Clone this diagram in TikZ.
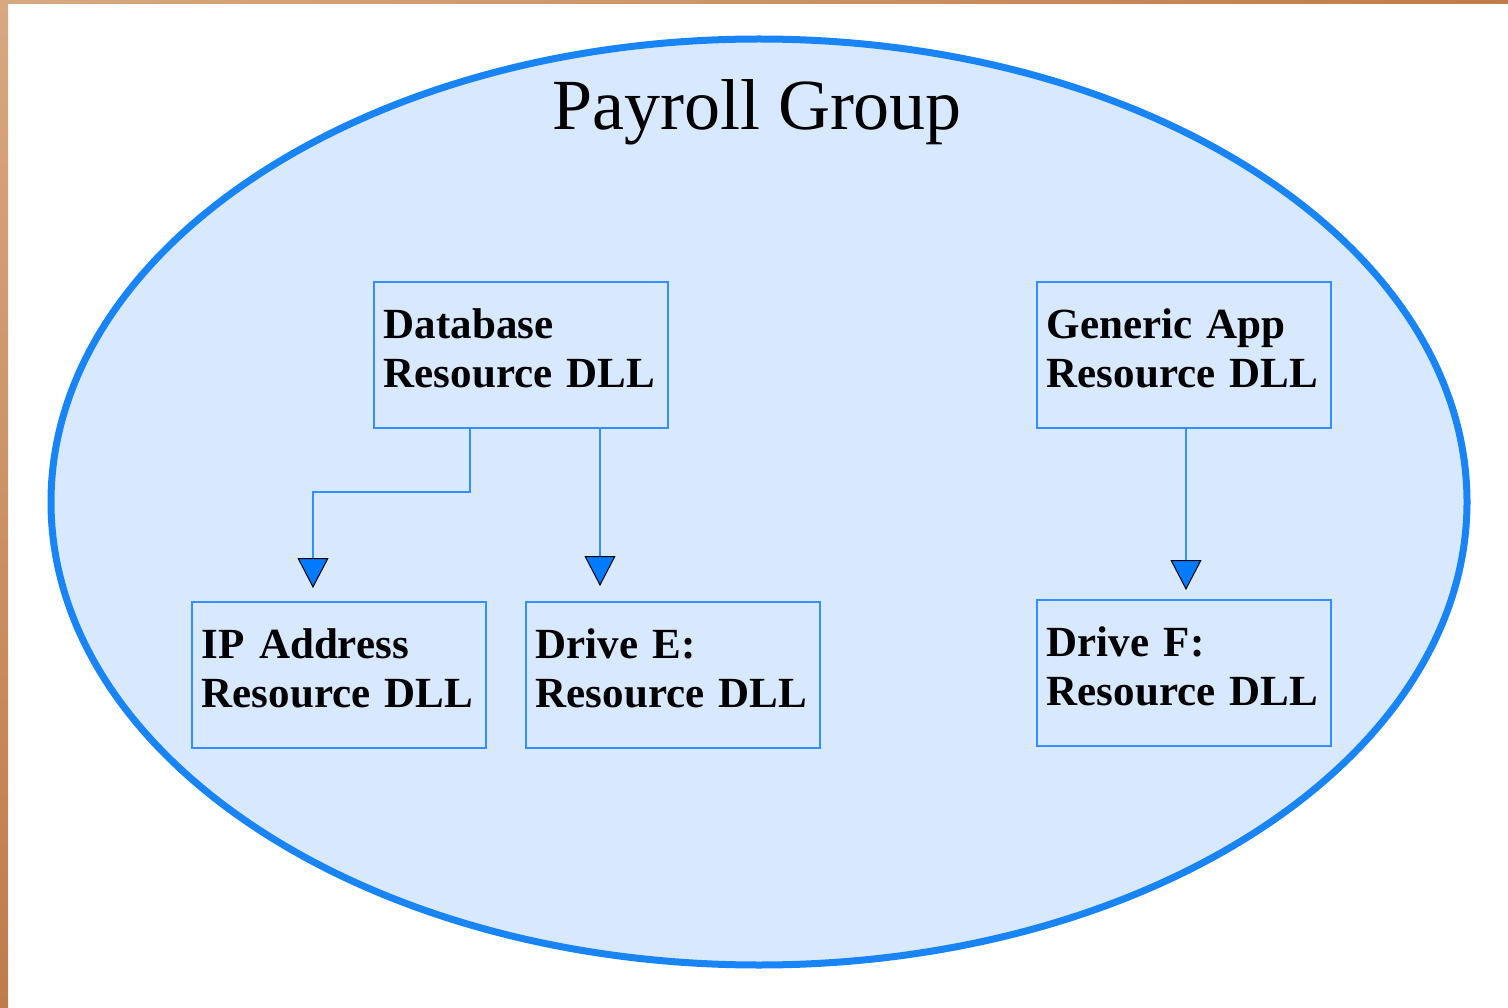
\documentclass[tikz,border=0pt]{standalone}
\usepackage{fontspec}
\setmainfont{Liberation Serif}
\usetikzlibrary{arrows.meta}

\definecolor{groupfill}{RGB}{216,233,255}
\definecolor{groupline}{RGB}{24,132,246}
\definecolor{boxline}{RGB}{52,142,255}
\definecolor{tipfill}{RGB}{0,122,255}
\definecolor{frameA}{RGB}{216,168,128}
\definecolor{frameB}{RGB}{190,124,76}

\begin{document}
\begin{tikzpicture}[x=1pt,y=-1pt,
  dll/.style={draw=boxline, line width=1.6pt, anchor=north west,
    inner xsep=10pt, inner ysep=0pt, text width=274pt, align=left,
    text height=57pt, text depth=89pt,
    font=\fontsize{43}{49}\selectfont\bfseries},
  conn/.style={draw=boxline, line width=1.8pt,
    -{Triangle[width=31pt,length=30pt,color=black,fill=tipfill,line width=1pt]}}]

\useasboundingbox (0,0) rectangle (1508,1008);
\fill[white] (0,0) rectangle (1508,1008);

% window frame strips
\shade[left color=frameA, right color=frameB] (0,0) rectangle (1508,4);
\shade[top color=frameA, bottom color=frameB] (0,0) rectangle (8,1008);

% the resource group
\draw[groupline, fill=groupfill, line width=7pt] (759,502) ellipse [x radius=708, y radius=463];
\node (title) [anchor=base, font=\fontsize{72}{80}\selectfont] at (757,130) {Payroll Group};

% resource DLLs
\node (db) [dll] at (373,281) {Database\\Resource DLL};
\node (ga) [dll] at (1036,281) {Generic App\\Resource DLL};
\node (ip) [dll] at (191,601) {IP Address\\Resource DLL};
\node (de) [dll] at (525,601) {Drive E:\\Resource DLL};
\node (df) [dll] at (1036,599) {Drive F:\\Resource DLL};

% dependencies
\draw[conn] ([xshift=97pt]db.south west) -- ++(0,63) -| ([xshift=122pt,yshift=13pt]ip.north west);
\draw[conn] ([xshift=227pt]db.south west) -- ([xshift=75pt,yshift=15pt]de.north west);
\draw[conn] ([xshift=150pt]ga.south west) -- ([xshift=150pt,yshift=9pt]df.north west);
\end{tikzpicture}
\end{document}
